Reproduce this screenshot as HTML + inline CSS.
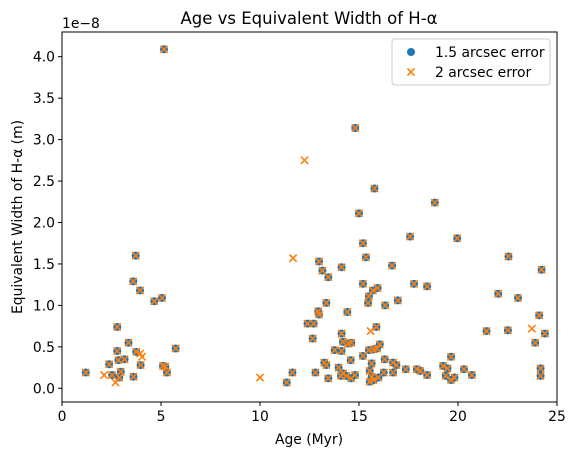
<!DOCTYPE html>
<html><head><meta charset="utf-8"><style>
body{margin:0;background:#fff}
svg{font-family:"DejaVu Sans","Liberation Sans",sans-serif}
</style></head><body>
<svg id="chart" width="576" height="455" xmlns="http://www.w3.org/2000/svg">
<rect width="576" height="455" fill="#fff"/>
<g id="plot"></g>
<g id="axes"></g>
</svg>
<script>
const ageBlue=[1.2,5.15,3.72,3.6,3.94,4.66,5.05,2.79,3.36,2.79,5.74,3.75,3.97,3.16,2.85,2.38,2.97,3.61,2.89,2.53,5.1,5.3,5.22,11.35,11.64,
14.81,15.78,18.83,15.0,17.58,19.96,15.2,22.55,15.35,12.98,14.12,16.67,24.22,13.15,13.45,15.2,17.78,18.44,15.94,15.7,15.5,22.03,23.03,15.46,16.32,16.96,13.35,12.94,12.98,14.41,24.1,12.4,12.71,15.88,21.44,22.52,24.39,23.9,12.66,14.12,14.19,14.61,14.46,13.77,14.12,15.5,15.74,16.05,15.91,15.2,19.65,16.3,14.58,13.25,16.72,16.89,13.35,12.8,13.97,19.25,19.47,17.36,17.92,18.1,18.44,20.3,20.7,19.38,19.65,19.82,24.17,24.17,13.45,14.09,14.36,14.6,14.8,14.19,15.54,15.64,15.54,15.74,15.98,16.25,16.72,15.64];
const ewBlue=[0.19,4.09,1.60,1.29,1.18,1.05,1.09,0.74,0.55,0.45,0.48,0.44,0.28,0.35,0.34,0.29,0.20,0.14,0.13,0.16,0.27,0.19,0.26,0.07,0.19,
3.14,2.41,2.24,2.11,1.83,1.81,1.75,1.59,1.58,1.53,1.46,1.48,1.43,1.42,1.34,1.26,1.26,1.23,1.21,1.18,1.11,1.14,1.09,1.03,1.00,1.06,1.03,0.93,0.89,0.92,0.88,0.78,0.78,0.74,0.69,0.70,0.66,0.55,0.60,0.66,0.56,0.55,0.54,0.46,0.45,0.46,0.47,0.53,0.48,0.39,0.38,0.35,0.34,0.31,0.31,0.28,0.28,0.19,0.25,0.27,0.24,0.23,0.23,0.21,0.16,0.23,0.16,0.15,0.10,0.13,0.24,0.15,0.12,0.15,0.15,0.12,0.16,0.18,0.21,0.14,0.08,0.10,0.13,0.19,0.19,0.30];
const ageOrangeExtra=[2.13,2.7,3.95,4.04,10.0,11.67,12.25,15.59,23.73];
const ewOrangeExtra=[0.16,0.07,0.42,0.38,0.13,1.57,2.75,0.69,0.72];
const xTicks=[0,5,10,15,20,25];
const yTicks=[0.0,0.5,1.0,1.5,2.0,2.5,3.0,3.5,4.0];

const L=62,R=557,T=32,B=402;
const xs=a=>L+a*(R-L)/25;
const ys=v=>388.3-v*82.9;
const NS='http://www.w3.org/2000/svg';
function mk(tag,attrs,parent,text){const e=document.createElementNS(NS,tag);for(const k in attrs)e.setAttribute(k,attrs[k]);if(text!==undefined)e.textContent=text;parent.appendChild(e);return e;}
const plot=document.getElementById('plot'),axes=document.getElementById('axes');
ageBlue.forEach((a,i)=>{const c=mk('circle',{cx:xs(a),cy:ys(ewBlue[i]),r:4,fill:'#1f77b4'},plot);

});
function cross(x,y){const g=mk('g',{stroke:'#ff7f0e','stroke-width':1.6},plot);


const s=3.6;mk('line',{x1:x-s,y1:y-s,x2:x+s,y2:y+s},g);mk('line',{x1:x-s,y1:y+s,x2:x+s,y2:y-s},g);}
ageBlue.forEach((a,i)=>cross(xs(a),ys(ewBlue[i])));
ageOrangeExtra.forEach((a,i)=>cross(xs(a),ys(ewOrangeExtra[i])));
const frame=mk('rect',{x:L,y:T,width:R-L,height:B-T,fill:'none',stroke:'#000','stroke-width':1},axes);


xTicks.forEach(t=>{const x=xs(t);mk('line',{x1:x,y1:B,x2:x,y2:B+4,stroke:'#000'},axes);
const tx=mk('text',{x:x,y:B+19,'text-anchor':'middle','font-size':13.9},axes,String(t));

});
yTicks.forEach(t=>{const y=ys(t);mk('line',{x1:L-4,y1:y,x2:L,y2:y,stroke:'#000'},axes);
const tx=mk('text',{x:L-7,y:y+5,'text-anchor':'end','font-size':13.9},axes,t.toFixed(1));

});
</script>
<svg style="position:absolute;left:0;top:0" width="576" height="455" xmlns="http://www.w3.org/2000/svg" font-family="DejaVu Sans, Liberation Sans, sans-serif">
<text x="309" y="24" text-anchor="middle" font-size="16.5">Age vs Equivalent Width of H-α</text>
<text x="62" y="28" font-size="13.9">1e−8</text>
<text x="309" y="444" text-anchor="middle" font-size="13.9">Age (Myr)</text>
<text transform="translate(22,217) rotate(-90)" text-anchor="middle" font-size="13.9">Equivalent Width of H-α (m)</text>
<g>
<rect x="392" y="39" width="158" height="46" rx="3" fill="#fff" fill-opacity="0.8" stroke="#ccc"/>
<circle cx="411" cy="52" r="4" fill="#1f77b4"/>
<text x="435" y="57" font-size="13.9">1.5 arcsec error</text>
<g stroke="#ff7f0e" stroke-width="1.6"><line x1="407.4" y1="68.4" x2="414.6" y2="75.6"/><line x1="407.4" y1="75.6" x2="414.6" y2="68.4"/></g>
<text x="435" y="77" font-size="13.9">2 arcsec error</text>
</g>
</svg>
</body></html>
